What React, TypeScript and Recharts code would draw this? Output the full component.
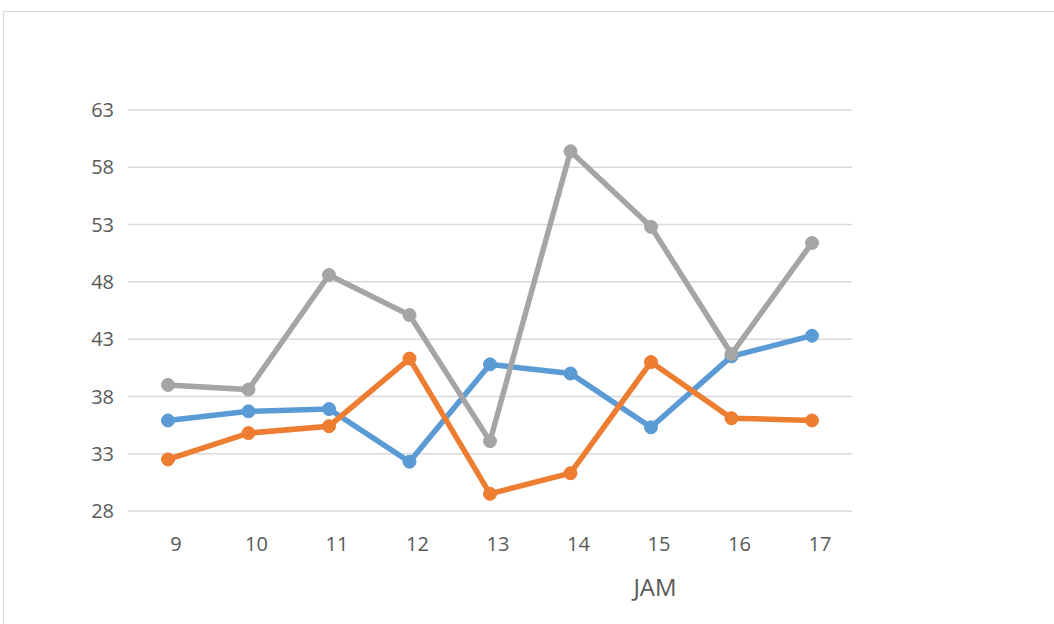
import React from 'react';
import { LineChart, Line, XAxis, YAxis, CartesianGrid } from 'recharts';

// hours on the x axis
const hours = ['9', '10', '11', '12', '13', '14', '15', '16', '17'];

// three series
const blueSeries = [35.9, 36.7, 36.9, 32.3, 40.8, 40.0, 35.3, 41.5, 43.3];
const orangeSeries = [32.5, 34.8, 35.4, 41.3, 29.5, 31.3, 41.0, 36.1, 35.9];
const graySeries = [39.0, 38.6, 48.6, 45.1, 34.1, 59.4, 52.8, 41.7, 51.4];

const yTicks = [28, 33, 38, 43, 48, 53, 58, 63];

const data = hours.map((h, i) => ({
  jam: h,
  a: blueSeries[i],
  b: orangeSeries[i],
  c: graySeries[i],
}));

const FONT = '"Open Sans", "Liberation Sans", sans-serif';
const TEXT = '#595959';

const App: React.FC = () => {
  return (
    <div style={{ position: 'absolute', left: 0, top: 0, width: 1054, height: 624, overflow: 'hidden', background: '#fff' }}>
      {/* outer chart frame, runs off the right and bottom */}
      <div style={{ position: 'absolute', left: 3, top: 11, width: 1200, height: 800, border: '1.5px solid #d9d9d9' }} />
      <div style={{ position: 'absolute', left: 0, top: 0 }}>
        <LineChart width={1054} height={624} data={data} margin={{ top: 110, right: 202, left: 0, bottom: 0 }}>
          <CartesianGrid vertical={false} stroke="#d9d9d9" strokeWidth={1.5} />
          <XAxis
            dataKey="jam"
            height={113}
            padding={{ left: 40, right: 40 }}
            axisLine={false}
            tickLine={false}
            tickSize={0}
            tickMargin={26}
            tick={{ fill: TEXT, fontSize: 20, fontFamily: FONT, dx: 8 }}
            label={{ value: 'JAM', position: 'insideBottom', dx: 165, offset: 28, fill: TEXT, fontSize: 24, fontFamily: FONT }}
          />
          <YAxis
            width={128}
            domain={[28, 63]}
            ticks={yTicks}
            axisLine={false}
            tickLine={false}
            tickSize={0}
            tickMargin={14}
            tick={{ fill: TEXT, fontSize: 20, fontFamily: FONT }}
          />
          <Line dataKey="a" stroke="#5b9bd5" strokeWidth={5.5} dot={{ r: 6.5, fill: '#5b9bd5', stroke: '#5b9bd5', strokeWidth: 1 }} isAnimationActive={false} />
          <Line dataKey="b" stroke="#ed7d31" strokeWidth={5.5} dot={{ r: 6.5, fill: '#ed7d31', stroke: '#ed7d31', strokeWidth: 1 }} isAnimationActive={false} />
          <Line dataKey="c" stroke="#a5a5a5" strokeWidth={5.5} dot={{ r: 6.5, fill: '#a5a5a5', stroke: '#a5a5a5', strokeWidth: 1 }} isAnimationActive={false} />
        </LineChart>
      </div>
    </div>
  );
};

export default App;
